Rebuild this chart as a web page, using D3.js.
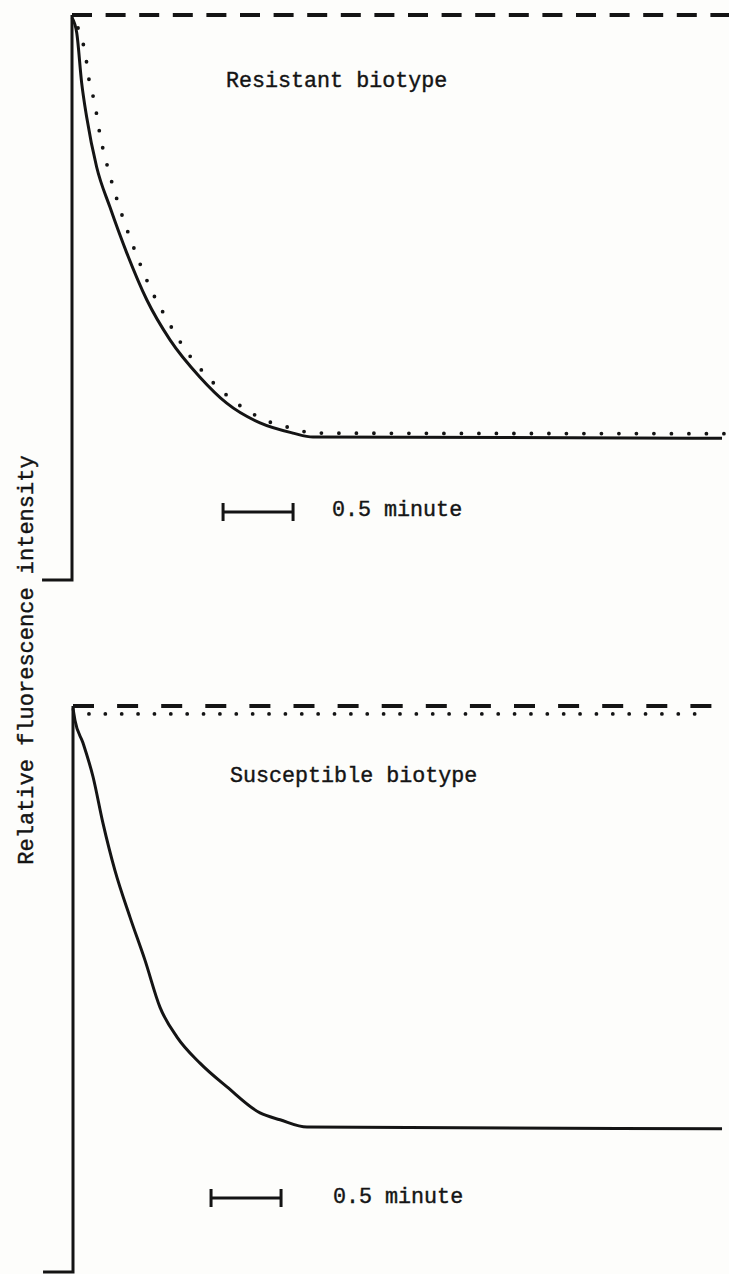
<!DOCTYPE html>
<html><head><meta charset="utf-8">
<script src="https://cdn.jsdelivr.net/npm/d3@7"></script>
<style>html,body{margin:0;padding:0;background:#fdfdfb;} svg{display:block}</style>
</head><body>
<svg id="chart" width="729" height="1274"></svg>
<script>
// ---- Data (time in minutes, relative fluorescence intensity in %) ----
const resistantSolidTime = [0, 0.034, 0.069, 0.105, 0.176, 0.271, 0.391, 0.534, 0.700, 0.914, 1.105, 1.343, 1.579, 1.721, 4.643];
const resistantSolidValue = [99.5, 96.8, 88.0, 81.9, 73.1, 66.0, 57.9, 49.6, 42.5, 35.9, 31.3, 27.8, 26.0, 25.3, 25.1];

const resistantDottedTime = [0.043, 0.079, 0.105, 0.125, 0.157, 0.203, 0.270, 0.357, 0.457, 0.557, 0.672, 0.806, 0.990, 1.160, 1.370, 1.600, 1.720, 4.693];
const resistantDottedValue = [97.7, 95.0, 91.5, 88.0, 85.0, 78.4, 71.7, 64.6, 57.8, 51.8, 46.4, 40.9, 35.4, 31.6, 28.4, 26.7, 26.0, 25.9];

const susceptibleSolidTime = [0, 0.014, 0.071, 0.143, 0.214, 0.300, 0.407, 0.514, 0.621, 0.743, 0.907, 1.100, 1.336, 1.479, 1.671, 4.636];
const susceptibleSolidValue = [99.6, 97.5, 93.5, 87.5, 79.3, 70.9, 62.7, 55.1, 46.8, 41.5, 36.9, 32.7, 28.1, 26.9, 25.6, 25.3];

const susceptibleDottedTime = [0.114, 4.557];
const susceptibleDottedValue = [98.6, 98.6];

const maxLevelValue = 100;     // dashed line level
const baselineValue = 0;
const scaleBarLength = 0.5;    // minutes
const scaleBarLabel = "0.5 minute";
const panelTitles = ["Resistant biotype", "Susceptible biotype"];
const yAxisLabel = "Relative fluorescence intensity";

// ---- Layout ----
const svg = d3.select("#chart");
const ink = "#141414";
const font = "'Liberation Mono', 'DejaVu Sans Mono', monospace";
const pxPerMinute = 140;

const panels = [
  {
    title: panelTitles[0], x0: 72, yRange: [580, 15],
    solidT: resistantSolidTime, solidV: resistantSolidValue,
    dotT: resistantDottedTime, dotV: resistantDottedValue,
    dashEnd: 4.75, dash: "20 13.6", dotGap: 17.5,
    titlePos: [226, 87], barStart: 1.079, barY: 512, barLabelPos: [332, 516]
  },
  {
    title: panelTitles[1], x0: 73, yRange: [1272, 706],
    solidT: susceptibleSolidTime, solidV: susceptibleSolidValue,
    dotT: susceptibleDottedTime, dotV: susceptibleDottedValue,
    dashEnd: 4.571, dash: "21 23.1", dotGap: 16.37,
    titlePos: [230, 782], barStart: 0.986, barY: 1198, barLabelPos: [333, 1203]
  }
];

panels.forEach(p => {
  const x = d3.scaleLinear().domain([0, 1]).range([p.x0, p.x0 + pxPerMinute]);
  const y = d3.scaleLinear().domain([0, 100]).range(p.yRange);
  const g = svg.append("g");

  const line = d3.line().x(d => x(d[0])).y(d => y(d[1])).curve(d3.curveMonotoneX);
  const straight = d3.line().x(d => x(d[0])).y(d => y(d[1]));

  // baseline stub + vertical rise
  g.append("path")
    .attr("d", straight([[-0.214, baselineValue], [0, baselineValue], [0, maxLevelValue]]))
    .attr("fill", "none").attr("stroke", ink).attr("stroke-width", 3).attr("stroke-linejoin", "miter");

  // dashed maximal level
  g.append("path")
    .attr("d", straight([[0, maxLevelValue], [p.dashEnd, maxLevelValue]]))
    .attr("fill", "none").attr("stroke", ink).attr("stroke-width", 4)
    .attr("stroke-dasharray", p.dash);

  // dotted trace
  g.append("path")
    .attr("d", line(p.dotT.map((t, i) => [t, p.dotV[i]])))
    .attr("fill", "none").attr("stroke", ink).attr("stroke-width", 3.8)
    .attr("stroke-linecap", "round").attr("stroke-dasharray", `0 ${p.dotGap}`);

  // solid trace
  g.append("path")
    .attr("d", line(p.solidT.map((t, i) => [t, p.solidV[i]])))
    .attr("fill", "none").attr("stroke", ink).attr("stroke-width", 3).attr("stroke-linejoin", "round");

  // title
  g.append("text").attr("x", p.titlePos[0]).attr("y", p.titlePos[1])
    .attr("font-family", font).attr("font-size", 21.7).attr("fill", ink)
    .attr("stroke", ink).attr("stroke-width", 0.4).text(p.title);

  // scale bar
  const bx1 = x(p.barStart), bx2 = x(p.barStart + scaleBarLength);
  g.append("line").attr("x1", bx1).attr("x2", bx2).attr("y1", p.barY).attr("y2", p.barY)
    .attr("stroke", ink).attr("stroke-width", 3);
  [bx1, bx2].forEach(bx => g.append("line").attr("x1", bx).attr("x2", bx)
    .attr("y1", p.barY - 9).attr("y2", p.barY + 9).attr("stroke", ink).attr("stroke-width", 3));
  g.append("text").attr("x", p.barLabelPos[0]).attr("y", p.barLabelPos[1])
    .attr("font-family", font).attr("font-size", 21.7).attr("fill", ink)
    .attr("stroke", ink).attr("stroke-width", 0.4).text(scaleBarLabel);
});

// y axis label
svg.append("text")
  .attr("transform", "translate(33,660) rotate(-90)")
  .attr("text-anchor", "middle")
  .attr("font-family", font).attr("font-size", 22).attr("fill", ink)
  .attr("stroke", ink).attr("stroke-width", 0.4)
  .text(yAxisLabel);
</script>
</body></html>
